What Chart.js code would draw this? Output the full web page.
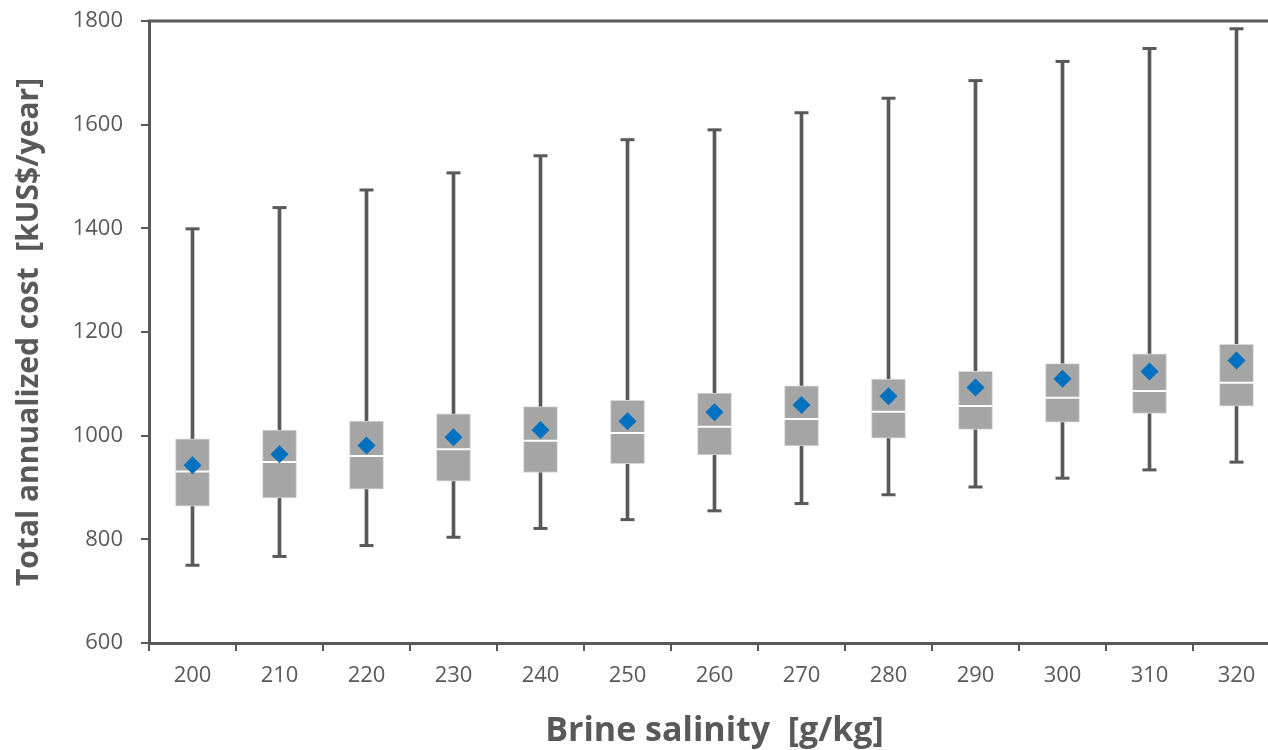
<!DOCTYPE html>
<html>
<head>
<meta charset="utf-8">
<script src="https://cdn.jsdelivr.net/npm/chart.js@4"></script>
<style>
  html, body { margin: 0; padding: 0; background: #fff; overflow: hidden; }
  #wrap { width: 1268px; height: 750px; overflow: hidden; position: relative; }
  canvas { display: block; }
</style>
</head>
<body>
<div id="wrap"><canvas id="c" width="1290" height="750"></canvas></div>
<script>
const categories = ['200','210','220','230','240','250','260','270','280','290','300','310','320'];
const maxValues    = [1399, 1440, 1474, 1507, 1540, 1571, 1590, 1623, 1651, 1685, 1722, 1747, 1785];
const minValues    = [750, 767, 788, 804, 821, 838, 855, 869, 886, 901, 918, 934, 949];
const q1Values     = [864, 880, 897, 912, 929, 946, 963, 980, 995, 1012, 1026, 1043, 1057];
const q3Values     = [994, 1011, 1028, 1042, 1056, 1068, 1082, 1096, 1109, 1124, 1139, 1158, 1176];
const medianValues = [931, 949, 961, 974, 990, 1005, 1017, 1032, 1046, 1057, 1073, 1086, 1102];
const meanValues   = [943, 964, 981, 997, 1011, 1028, 1045, 1059, 1076, 1093, 1110, 1124, 1145];
const yTicks = [600, 800, 1000, 1200, 1400, 1600, 1800];

const axisColor = '#595959';
const textColor = '#595959';
const fontFamily = '"Open Sans", "Liberation Sans", sans-serif';

const borderPlugin = {
  id: 'frame',
  afterDatasetsDraw(chart) {
    const {ctx, chartArea: a} = chart;
    ctx.save();
    ctx.strokeStyle = axisColor;
    ctx.lineWidth = 3;
    ctx.beginPath();
    ctx.moveTo(a.left - 1.5, a.top);
    ctx.lineTo(a.right, a.top);
    ctx.lineTo(a.right, a.bottom);
    ctx.stroke();
    ctx.restore();
  }
};

new Chart(document.getElementById('c'), {
  type: 'bar',
  data: {
    labels: categories,
    datasets: [
      {
        label: 'Whisker',
        data: categories.map((_, i) => [minValues[i], maxValues[i]]),
        backgroundColor: axisColor,
        barThickness: 3,
        grouped: false,
        order: 5
      },
      {
        label: 'Box',
        data: categories.map((_, i) => [q1Values[i], q3Values[i]]),
        backgroundColor: '#A5A5A5',
        borderColor: '#D6D6D6',
        borderWidth: 1,
        borderSkipped: false,
        barThickness: 34,
        grouped: false,
        order: 4
      },
      {
        type: 'line',
        label: 'Min',
        data: minValues,
        showLine: false,
        pointStyle: 'line',
        pointRadius: 7,
        pointBorderWidth: 3,
        pointBorderColor: axisColor,
        order: 3
      },
      {
        type: 'line',
        label: 'Max',
        data: maxValues,
        showLine: false,
        pointStyle: 'line',
        pointRadius: 7,
        pointBorderWidth: 3,
        pointBorderColor: axisColor,
        order: 3
      },
      {
        type: 'line',
        label: 'Median',
        data: medianValues,
        showLine: false,
        pointStyle: 'line',
        pointRadius: 17,
        pointBorderWidth: 2,
        pointBorderColor: '#FFFFFF',
        order: 2
      },
      {
        type: 'line',
        label: 'Mean',
        data: meanValues,
        showLine: false,
        pointStyle: 'rectRot',
        pointRadius: 9,
        pointBackgroundColor: '#0070C0',
        pointBorderColor: '#0070C0',
        pointBorderWidth: 0,
        order: 1
      }
    ]
  },
  options: {
    responsive: false,
    animation: false,
    events: [],
    layout: { autoPadding: false, padding: { top: 21, right: 10, left: 0, bottom: 0 } },
    plugins: { legend: { display: false }, tooltip: { enabled: false } },
    scales: {
      x: {
        type: 'category',
        offset: true,
        afterFit: s => { s.height = 107; },
        border: { display: true, color: axisColor, width: 3 },
        grid: { display: true, drawOnChartArea: false, drawTicks: true, tickLength: 8, offset: true, color: axisColor, lineWidth: 2 },
        ticks: { color: textColor, font: { family: fontFamily, size: 22 }, padding: 12, maxRotation: 0 },
        title: {
          display: true,
          text: 'Brine salinity  [g/kg]',
          color: textColor,
          font: { family: fontFamily, size: 34, weight: 'bold' },
          padding: { top: 0, bottom: -2 }
        }
      },
      y: {
        min: 600,
        max: 1800,
        afterFit: s => { s.width = 149; s.paddingTop = 0; s.paddingBottom = 0; },
        afterBuildTicks: s => { s.ticks = yTicks.map(v => ({ value: v })); },
        border: { display: true, color: axisColor, width: 3 },
        grid: { display: true, drawOnChartArea: false, drawTicks: true, tickLength: 8, color: axisColor, lineWidth: 2 },
        ticks: { color: textColor, font: { family: fontFamily, size: 22 }, padding: 18, callback: v => String(v) },
        title: {
          display: true,
          text: 'Total annualized cost  [kUS$/year]',
          color: textColor,
          font: { family: fontFamily, size: 30, weight: 'bold' },
          padding: { top: 11, bottom: 0 }
        }
      }
    }
  },
  plugins: [borderPlugin]
});
</script>
</body>
</html>
